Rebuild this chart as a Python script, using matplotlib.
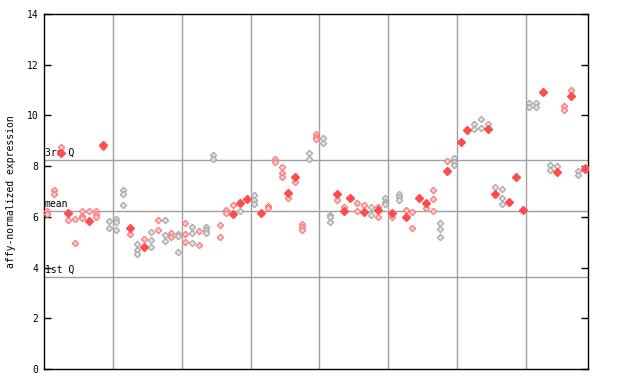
import matplotlib
matplotlib.use("Agg")
import matplotlib.pyplot as plt

# expression values per sample column (open diamonds), plus one filled value
open_values = [
    [6.25, 6.1], [7.05, 6.9], [8.75], [5.88], [5.9, 4.95],
    [6.22, 6.05, 5.95], [6.22], [6.25, 6.1, 6.0], [8.75], [5.85, 5.55],
    [5.9, 5.8, 5.5], [7.05, 6.9, 6.47], [5.31], [4.93, 4.69, 4.52], [5.14],
    [5.41, 5.09, 4.8], [5.88, 5.5], [5.88, 5.28, 5.05], [5.35, 5.19], [5.32, 5.24, 4.6],
    [5.74, 5.32, 5.0], [5.59, 5.35, 4.96], [5.44, 4.88], [5.6, 5.5, 5.35], [8.44, 8.27],
    [5.68, 5.2], [6.27, 6.14], [6.47], [6.6, 6.23], [],
    [6.86, 6.66, 6.51], [], [6.44, 6.34], [8.27, 8.15], [7.95, 7.71, 7.58],
    [6.76], [7.39], [5.72, 5.61, 5.48], [8.5, 8.28], [9.27, 9.16, 9.07],
    [9.1, 8.9], [6.07, 5.98, 5.78], [6.66], [6.37], [],
    [6.53, 6.23], [6.47], [6.37, 6.07], [6.4, 5.98], [6.73, 6.6, 6.51],
    [5.98], [6.9, 6.8, 6.66], [6.27], [6.19, 5.55], [],
    [6.34], [7.06, 6.69, 6.24], [5.74, 5.51, 5.22], [8.2], [8.31, 8.18, 8.04],
    [], [], [9.66, 9.45], [9.86, 9.49], [9.66],
    [7.16], [7.08, 6.73, 6.49], [], [], [],
    [10.48, 10.35], [10.5, 10.35], [], [8.04, 7.85], [8.0],
    [10.37, 10.21], [11.0], [7.82, 7.64], [7.98],
]
filled_values = [
    None, None, 8.5, 6.14, None, None, 5.85, None, 8.85, None,
    None, None, 5.57, None, 4.8, None, None, None, None, None,
    None, None, None, None, None, None, None, 6.11, 6.53, 6.7,
    None, 6.14, None, None, None, 6.95, 7.58, None, None, None,
    None, None, 6.9, 6.24, 6.73, None, 6.18, None, 6.27, None,
    6.16, None, 6.0, None, 6.73, 6.53, None, None, 7.82, None,
    8.97, 9.42, None, None, 9.48, 6.9, None, 6.59, 7.56, 6.28,
    None, None, 10.91, None, 7.78, None, 10.78, None, 7.87,
]
gray_columns = {9, 10, 11, 13, 15, 17, 19, 21, 23, 24, 28, 30, 38, 40, 41, 47, 49,
                51, 57, 59, 62, 63, 64, 65, 66, 70, 71, 73, 74, 77}

q1, mean, q3 = 3.63, 6.23, 8.24
yticks = [0, 2, 4, 6, 8, 10, 12, 14]

mono = "DejaVu Sans Mono"
n = len(open_values)

fig = plt.figure(figsize=(6.4, 3.84), dpi=100)
ax = fig.add_axes([44 / 640, 15 / 384, 544 / 640, 355 / 384])

for x in range(10, n, 10):
    ax.axvline(x, color="#a0a0a0", lw=1, zorder=1)
for yv, lab in [(q3, "3rd Q"), (mean, "mean"), (q1, "1st Q")]:
    ax.axhline(yv, color="#a0a0a0", lw=1, zorder=1)
    ax.text(0.1, yv + 0.08, lab, fontsize=7, family=mono, va="bottom", ha="left", zorder=2)

for i, vals in enumerate(open_values):
    col = "#a8a8a8" if i in gray_columns else "#ff7777"
    face = "#e4e4e4" if i in gray_columns else "#ffd0d0"
    if vals:
        ax.plot([i + 0.5] * len(vals), vals, ls="none", marker="D", ms=3.2,
                mfc=face, mec=col, mew=0.9, zorder=3)
    if filled_values[i] is not None:
        ax.plot(i + 0.5, filled_values[i], ls="none", marker="D", ms=3.6,
                color="#ff4d4d", zorder=4)

ax.set_xlim(0, n)
ax.set_ylim(0, 14)
ax.set_xticks([])
ax.set_yticks(yticks)
ax.set_yticklabels([str(t) for t in yticks], family=mono, fontsize=7)
ax.tick_params(axis="y", direction="in", length=5, width=1, right=True, pad=4)
for s in ax.spines.values():
    s.set_linewidth(1)
    s.set_color("black")
ax.set_ylabel("affy-normalized expression", family=mono, fontsize=7, labelpad=8)

fig.savefig("out.png", dpi=100)
